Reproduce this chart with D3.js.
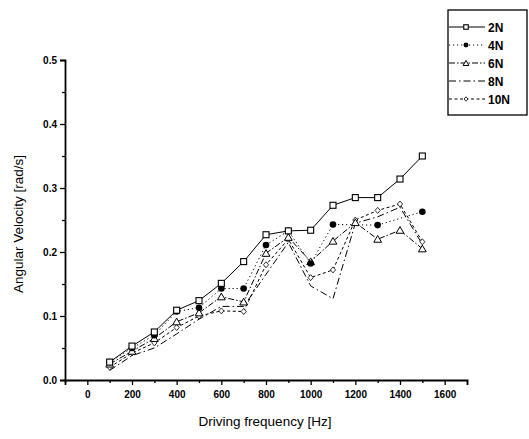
<!DOCTYPE html>
<html><head><meta charset="utf-8">
<script src="https://cdn.jsdelivr.net/npm/d3@7"></script>
<style>
body{margin:0;background:#fff;}
svg{display:block;font-family:"Liberation Sans",Arial,sans-serif;}
</style></head>
<body><svg id="c" width="529" height="439"></svg>
<script>
const freqs = [100,200,300,400,500,600,700,800,900,1000,1100,1200,1300,1400,1500];
const v2N  = [0.028,0.053,0.075,0.109,0.124,0.151,0.185,0.227,0.233,0.234,0.273,0.285,0.285,0.314,0.350];
const v4N  = [0.028,0.050,0.070,0.107,0.113,0.143,0.143,0.211,0.233,0.182,0.243,null,0.242,null,0.263];
const v6N  = [0.025,0.045,0.065,0.091,0.105,0.130,0.122,0.198,0.223,0.185,0.217,0.246,0.220,0.234,0.205];
const v8N  = [0.015,0.038,0.050,0.072,0.095,0.115,0.115,0.165,0.215,0.147,0.127,0.245,0.255,0.270,0.212];
const v10N = [0.020,0.042,0.058,0.082,0.100,0.108,0.107,0.180,0.220,0.160,0.172,0.250,0.265,0.275,0.216];
const seriesNames = ["2N","4N","6N","8N","10N"];
const xTicks = [0,200,400,600,800,1000,1200,1400,1600];
const yTicks = [0.0,0.1,0.2,0.3,0.4,0.5];

const svg = d3.select("#c");
const x = d3.scaleLinear().domain([-100,1700]).range([65,467]);
const y = d3.scaleLinear().domain([0,0.5]).range([380,60]);

const styles = {
  "2N":  {dash:null, marker:"square"},
  "4N":  {dash:"1.2,2.8", marker:"circle"},
  "6N":  {dash:"6,2,1.5,2", marker:"triangle"},
  "8N":  {dash:"7,3,1.5,3", marker:null},
  "10N": {dash:"3,2.5", marker:"diamond"}
};
const data = {"2N":v2N,"4N":v4N,"6N":v6N,"8N":v8N,"10N":v10N};

// axes
const xAxis = d3.axisBottom(x).tickValues(xTicks).tickSize(5).tickPadding(6).tickFormat(d3.format("d"));
svg.append("g").attr("transform","translate(0,380)").call(xAxis);
const xMinor = d3.axisBottom(x).tickValues([-100,100,300,500,700,900,1100,1300,1500,1700]).tickSize(3).tickFormat("");
svg.append("g").attr("transform","translate(0,380)").call(xMinor).select(".domain").remove();
const yAxis = d3.axisLeft(y).tickValues(yTicks).tickSize(5).tickPadding(3).tickFormat(d3.format(".1f"));
svg.append("g").attr("transform","translate(65,0)").call(yAxis);
const yMinor = d3.axisLeft(y).tickValues([0.05,0.15,0.25,0.35,0.45]).tickSize(3).tickFormat("");
svg.append("g").attr("transform","translate(65,0)").call(yMinor).select(".domain").remove();
svg.selectAll(".domain").attr("stroke","#000").attr("stroke-width",1.8);
svg.selectAll(".tick line").attr("stroke","#000").attr("stroke-width",1.3);
svg.selectAll(".tick text").attr("font-size","10px").attr("font-weight","bold").attr("fill","#000")
   .attr("font-family","'Liberation Sans',Arial,sans-serif");

// titles
svg.append("text").attr("x",265).attr("y",426).attr("text-anchor","middle")
  .attr("font-size","13.5px").attr("fill","#000").text("Driving frequency [Hz]");
svg.append("text").attr("transform","translate(23,224) rotate(-90)").attr("text-anchor","middle")
  .attr("font-size","13.5px").attr("fill","#000").text("Angular Velocity [rad/s]");

function drawMarker(g, type, cx, cy, s){
  s = s || 1;
  if(type==="square") g.append("rect").attr("x",cx-3*s).attr("y",cy-3*s).attr("width",6*s).attr("height",6*s)
      .attr("fill","#fff").attr("stroke","#000").attr("stroke-width",1.1);
  else if(type==="circle") g.append("circle").attr("cx",cx).attr("cy",cy).attr("r",3.3*s).attr("fill","#000");
  else if(type==="triangle") g.append("path").attr("d",d3.symbol(d3.symbolTriangle,26*s*s)())
      .attr("transform",`translate(${cx},${cy+0.8})`).attr("fill","#fff").attr("stroke","#000").attr("stroke-width",1);
  else if(type==="diamond") g.append("path").attr("d",`M${cx},${cy-3*s}L${cx+2.6*s},${cy}L${cx},${cy+3*s}L${cx-2.6*s},${cy}Z`)
      .attr("fill","#fff").attr("stroke","#000").attr("stroke-width",0.8);
}
["10N","8N","6N","4N","2N"].forEach(name=>{
  const pts = freqs.map((f,i)=>({f, v:data[name][i]})).filter(d=>d.v!==null);
  svg.append("path").datum(pts).attr("d",d3.line().x(d=>x(d.f)).y(d=>y(d.v)))
    .attr("fill","none").attr("stroke","#000").attr("stroke-width",1)
    .attr("stroke-dasharray",styles[name].dash);
});
["10N","6N","4N","2N"].forEach(name=>{
  const g = svg.append("g");
  freqs.forEach((f,i)=>{ const v=data[name][i]; if(v!==null) drawMarker(g, styles[name].marker, x(f), y(v)); });
});

// legend
const lg = svg.append("g");
lg.append("rect").attr("x",448).attr("y",10).attr("width",79).attr("height",105)
  .attr("fill","#fff").attr("stroke","#000").attr("stroke-width",1.3);
seriesNames.forEach((name,i)=>{
  const ly = 27 + i*18;
  lg.append("line").attr("x1",449).attr("x2",485).attr("y1",ly).attr("y2",ly)
    .attr("stroke","#000").attr("stroke-width",1).attr("stroke-dasharray",styles[name].dash);
  if(styles[name].marker) drawMarker(lg, styles[name].marker, 466, ly, 0.75);
  lg.append("text").attr("x",488).attr("y",ly+4.5).attr("font-size","12px").attr("font-weight","bold")
    .attr("fill","#000").text(name);
});
</script></body></html>
